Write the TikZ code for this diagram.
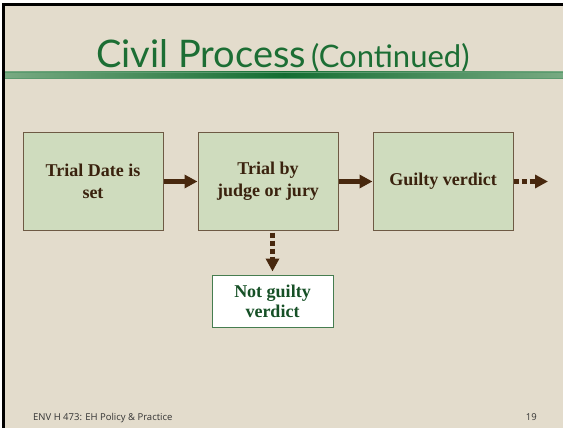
\documentclass[tikz,border=0pt]{standalone}
\usepackage{fontspec}
\setmainfont{Liberation Serif}
\newfontfamily\titlefont{Lato}
\newfontfamily\footfont{Open Sans}
\usetikzlibrary{arrows.meta}
\definecolor{slidebg}{RGB}{227,220,204}
\definecolor{boxfill}{RGB}{207,220,190}
\definecolor{boxedge}{RGB}{110,90,68}
\definecolor{arrowbrown}{RGB}{72,40,14}
\definecolor{textbrown}{RGB}{58,34,14}
\definecolor{titlegreen}{RGB}{28,110,52}
\definecolor{linelight}{RGB}{120,170,130}
\definecolor{linedark}{RGB}{20,110,50}
\definecolor{notedge}{RGB}{70,125,80}
\definecolor{nottext}{RGB}{22,80,38}

\begin{document}
\begin{tikzpicture}[x=1pt,y=-1pt,
  stage/.style={draw=boxedge, line width=1pt, fill=boxfill, minimum width=140pt,
    minimum height=97pt, inner sep=0pt, align=center, text=textbrown,
    font=\bfseries\fontsize{18}{21.6}\selectfont},
  link/.style={-{Triangle[length=13pt,width=13pt]}, line width=5pt, draw=arrowbrown},
  dotlink/.style={link, dash pattern=on 5pt off 3pt},
  footer/.style={font=\footfont\fontsize{9.5}{11}\selectfont, text=black!80, inner sep=0pt}]
% Slide background
\fill[white] (0,0) rectangle (563,428);
\fill[black] (2,3) rectangle (563,428);
\fill[slidebg] (5,6) rectangle (563,428);
\useasboundingbox (0,0) rectangle (563,428);

% Title and rule
\node[anchor=base, text=titlegreen, font=\titlefont, inner sep=0pt] (title) at (283,68)
  {{\fontsize{38}{40}\selectfont Civil Process}\hspace{5pt}{\fontsize{31}{33}\selectfont (Continued)}};
\shade[left color=linelight, right color=linelight, middle color=linedark] (5,72) rectangle (563,79);
\draw[linedark!70, line width=0.8pt] (5,72.5) -- (563,72.5);
\draw[linedark!70, line width=0.8pt] (5,78.5) -- (563,78.5);

% Process steps
\node[stage] (date) at (93,181.5) {Trial Date is\\set};
\node[stage] (trial) at (268,181.5) {Trial by\\judge or jury};
\node[stage] (guilty) at (443,181.5) {Guilty verdict};
\node[draw=notedge, line width=1pt, fill=white, minimum width=121pt, minimum height=52pt,
  inner sep=0pt, align=center, text=nottext, font=\bfseries\fontsize{18}{20}\selectfont]
  (notguilty) at (272.5,301) {Not guilty\\verdict};
\coordinate (next) at (548,181.5);

% Arrows
\draw[link] (date) -- (trial);
\draw[link] (trial) -- (guilty);
\draw[dotlink] (guilty) -- (next);
\draw[dotlink, shorten >=3pt] (trial.south -| notguilty.north) ++(0,2) coordinate (drop) (drop) -- (notguilty.north);

% Footer
\node[footer, anchor=base west] (course) at (33,420) {ENV H 473: EH Policy \& Practice};
\node[footer, anchor=base east] (page) at (537,420) {19};
\end{tikzpicture}
\end{document}
